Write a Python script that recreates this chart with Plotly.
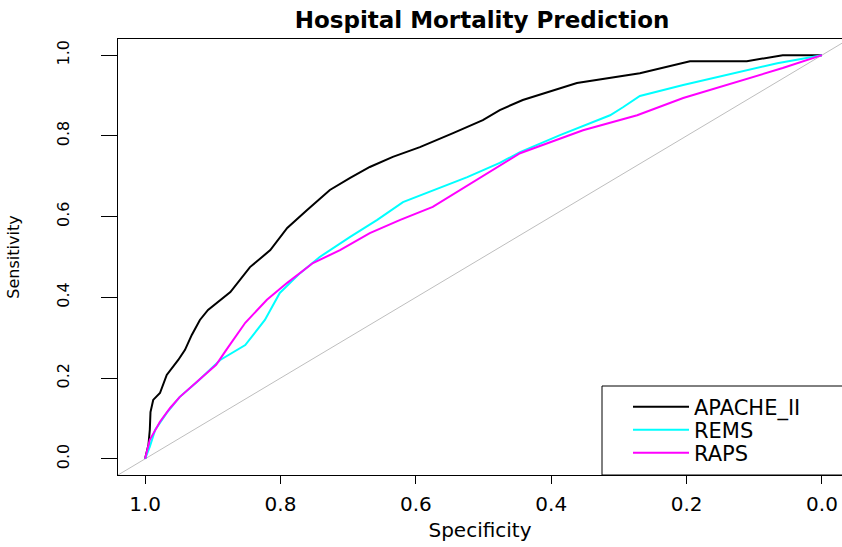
import plotly.graph_objects as go

# ---- data ----
apache_spec = [1.0, 0.995, 0.993, 0.992, 0.988, 0.978, 0.968, 0.951, 0.941, 0.931, 0.919, 0.907,
               0.874, 0.845, 0.815, 0.790, 0.761, 0.727, 0.697, 0.668, 0.634, 0.594, 0.545,
               0.501, 0.476, 0.442, 0.362, 0.269, 0.195, 0.111, 0.058, 0.0]
apache_sens = [0.0, 0.035, 0.072, 0.116, 0.146, 0.163, 0.208, 0.245, 0.270, 0.307, 0.344, 0.369,
               0.413, 0.475, 0.517, 0.572, 0.616, 0.666, 0.696, 0.723, 0.748, 0.772, 0.807,
               0.839, 0.864, 0.889, 0.931, 0.955, 0.985, 0.985, 1.0, 1.0]

rems_spec = [1.0, 0.993, 0.985, 0.968, 0.949, 0.923, 0.889, 0.864, 0.852, 0.823, 0.801, 0.771,
             0.742, 0.697, 0.657, 0.619, 0.574, 0.524, 0.476, 0.446, 0.387, 0.313, 0.294,
             0.269, 0.205, 0.131, 0.066, 0.0]
rems_sens = [0.0, 0.030, 0.072, 0.114, 0.153, 0.191, 0.245, 0.270, 0.282, 0.344, 0.411, 0.460,
             0.500, 0.550, 0.592, 0.636, 0.666, 0.698, 0.733, 0.760, 0.802, 0.851, 0.871,
             0.899, 0.926, 0.955, 0.980, 1.0]

raps_spec = [1.0, 0.993, 0.978, 0.963, 0.949, 0.923, 0.895, 0.880, 0.852, 0.820, 0.790, 0.752,
             0.712, 0.668, 0.623, 0.575, 0.524, 0.446, 0.353, 0.273, 0.205, 0.131, 0.058, 0.0]
raps_sens = [0.0, 0.047, 0.092, 0.126, 0.153, 0.191, 0.233, 0.270, 0.337, 0.394, 0.436, 0.485,
             0.517, 0.559, 0.592, 0.624, 0.676, 0.757, 0.814, 0.851, 0.894, 0.931, 0.968, 1.0]

diag_spec = [1.04, -0.04]
diag_sens = [-0.04, 1.04]

tick_vals = [1.0, 0.8, 0.6, 0.4, 0.2, 0.0]
tick_text = ["1.0", "0.8", "0.6", "0.4", "0.2", "0.0"]
y_tick_vals = [0.0, 0.2, 0.4, 0.6, 0.8, 1.0]
y_tick_text = ["0.0", "0.2", "0.4", "0.6", "0.8", "1.0"]

FONT = "DejaVu Sans"

fig = go.Figure()
fig.add_trace(go.Scatter(x=diag_spec, y=diag_sens, mode="lines",
                         line=dict(color="#BEBEBE", width=1), showlegend=False,
                         hoverinfo="skip"))
fig.add_trace(go.Scatter(x=apache_spec, y=apache_sens, mode="lines", name="APACHE_II",
                         line=dict(color="black", width=2), legend="legend"))
fig.add_trace(go.Scatter(x=rems_spec, y=rems_sens, mode="lines", name="REMS",
                         line=dict(color="#00FFFF", width=2), legend="legend2"))
fig.add_trace(go.Scatter(x=raps_spec, y=raps_sens, mode="lines", name="RAPS",
                         line=dict(color="#FF00FF", width=2), legend="legend3"))

W, H = 842, 547
L, T = 118, 39
B = H - 475
R = 0
pw, ph = W - L - R, H - T - B

def px_x(p):  # p in window pixels
    return (p - L) / pw

def px_y(p):
    return (H - B - p) / ph

leg_common = dict(xanchor="left", yanchor="middle", bgcolor="rgba(0,0,0,0)",
                  borderwidth=0, font=dict(family=FONT, size=21, color="black"),
                  itemwidth=56)

fig.update_layout(
    width=W, height=H,
    margin=dict(l=L, r=R, t=T, b=B),
    paper_bgcolor="white", plot_bgcolor="white",
    font=dict(family=FONT, color="black"),
    title=dict(text="<b>Hospital Mortality Prediction</b>",
               font=dict(family=FONT, size=23, color="black"),
               x=px_x(482), xref="paper", xanchor="center",
               y=1 - 20 / H, yref="container", yanchor="middle"),
    legend=dict(x=px_x(628), y=px_y(407), **leg_common),
    legend2=dict(x=px_x(628), y=px_y(430), **leg_common),
    legend3=dict(x=px_x(628), y=px_y(453), **leg_common),
    shapes=[dict(type="rect", xref="paper", yref="paper",
                 x0=px_x(602), x1=1.02, y0=0, y1=px_y(386),
                 line=dict(color="black", width=1), fillcolor="rgba(0,0,0,0)")],
)

fig.update_xaxes(range=[1.04, -0.0296], tickmode="array", tickvals=tick_vals, ticktext=tick_text,
                 ticks="outside", ticklen=8, tickwidth=1, tickcolor="black",
                 showline=True, linecolor="black", linewidth=1, mirror=True,
                 showgrid=False, zeroline=False, automargin=False,
                 tickfont=dict(family=FONT, size=20, color="black"), ticklabelstandoff=3,
                 title=dict(text="Specificity", font=dict(family=FONT, size=20, color="black"),
                            standoff=7))
fig.update_yaxes(range=[-0.04, 1.04], tickmode="array", tickvals=y_tick_vals, ticktext=y_tick_text,
                 ticks="outside", ticklen=16, tickwidth=1, tickcolor="black",
                 showline=True, linecolor="black", linewidth=1, mirror=False,
                 showgrid=False, zeroline=False, automargin=False, tickangle=-90,
                 tickfont=dict(family=FONT, size=16, color="black"), ticklabelstandoff=26,
                 title=dict(text="Sensitivity", font=dict(family=FONT, size=16, color="black"),
                            standoff=29))

fig.write_html("out.html",
               config={"displayModeBar": False},
               post_script="document.body.style.margin='0';"
                           "document.body.style.overflow='hidden';")
